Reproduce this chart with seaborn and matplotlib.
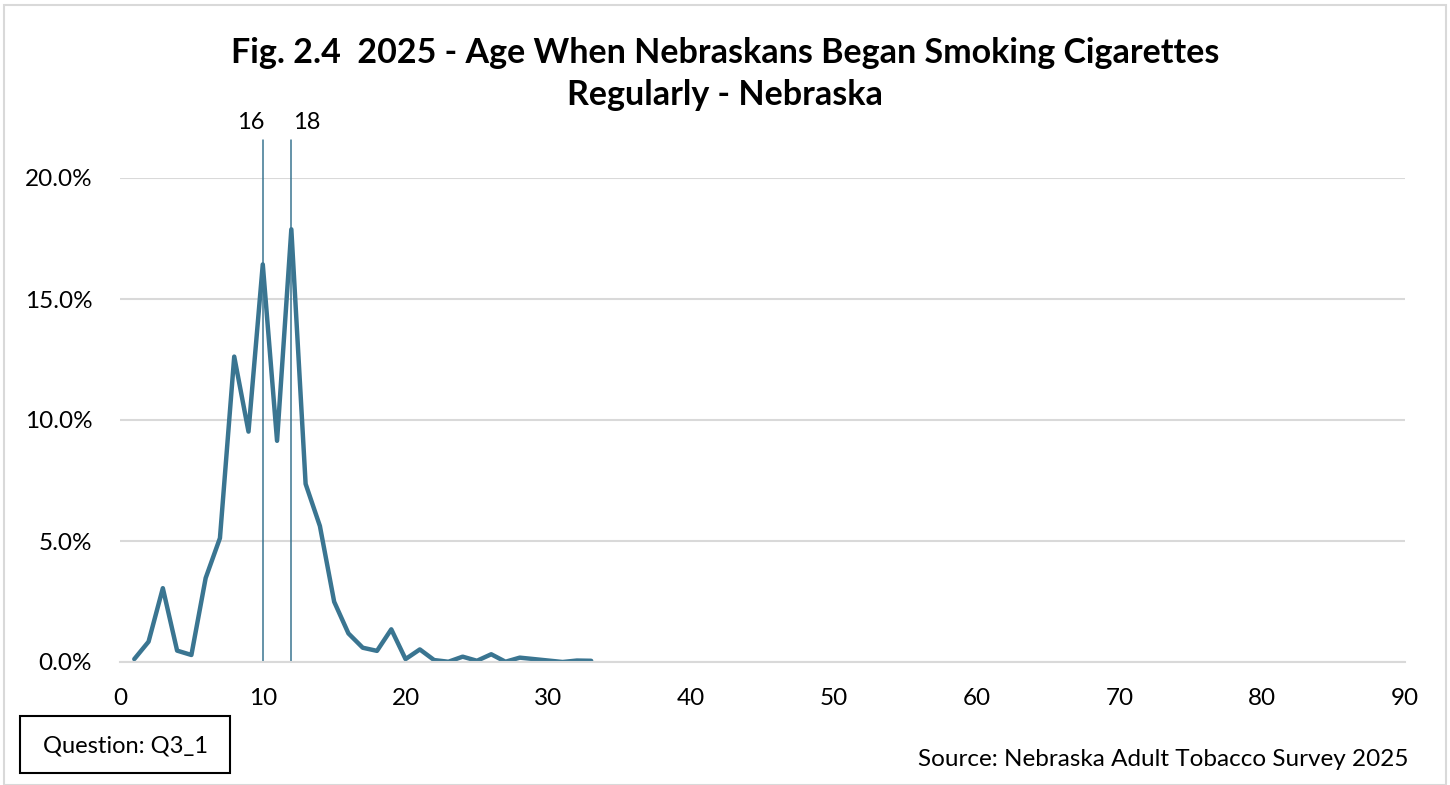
import matplotlib
matplotlib.use("Agg")
import matplotlib.pyplot as plt
import seaborn as sns
import pandas as pd
from matplotlib.patches import Rectangle
from matplotlib.ticker import PercentFormatter

positions = list(range(1, 34))
percent = [0.12, 0.84, 3.05, 0.47, 0.29, 3.47, 5.12, 12.62, 9.52, 16.43,
           9.14, 17.88, 7.36, 5.62, 2.49, 1.18, 0.59, 0.46, 1.35, 0.12,
           0.52, 0.08, 0.01, 0.22, 0.05, 0.32, 0.01, 0.18, 0.12, 0.06,
           0.0, 0.06, 0.05]
marker_positions = [10, 12]
marker_labels = ["16", "18"]

title = "Fig. 2.4  2025 - Age When Nebraskans Began Smoking Cigarettes\nRegularly - Nebraska"
question = "Question: Q3_1"
source = "Source: Nebraska Adult Tobacco Survey 2025"

sns.set_theme(style="white")
plt.rcParams['font.family'] = ['Lato', 'DejaVu Sans']
plt.rcParams['text.color'] = 'black'

df = pd.DataFrame({"pos": positions, "pct": [p / 100 for p in percent]})

fig = plt.figure(figsize=(14.5, 7.85), dpi=100)
ax = fig.add_axes([120/1450, 1 - 662/785, (1405-120)/1450, (662-178)/785])

line_color = "#3A7591"
sns.lineplot(data=df, x="pos", y="pct", ax=ax, color=line_color, linewidth=3.2)

ax.set_xlim(0, 90)
ax.set_ylim(0, 0.20)
ax.set_xticks(range(0, 91, 10))
ax.set_yticks([0, 0.05, 0.10, 0.15, 0.20])
ax.yaxis.set_major_formatter(PercentFormatter(1.0, decimals=1))
ax.grid(axis="y", color="#D9D9D9", linewidth=1.5)
ax.set_axisbelow(True)
for s in ["top", "right", "left"]:
    ax.spines[s].set_visible(False)
ax.spines["bottom"].set_color("#D9D9D9")
ax.spines["bottom"].set_linewidth(1.5)
ax.set_xlabel("")
ax.set_ylabel("")
ax.tick_params(axis="both", labelsize=17.5, colors="black", length=0)
ax.tick_params(axis="x", pad=19)
ax.tick_params(axis="y", pad=20)

for p, lab, off in zip(marker_positions, marker_labels, [-9, 11]):
    ax.plot([p, p], [0, 0.2157], color=line_color, linewidth=1.1, clip_on=False)
    ax.annotate(lab, xy=(p, 0.2157), xytext=(off, 5), textcoords="offset points",
                ha="center", va="bottom", fontsize=17, color="black",
                annotation_clip=False)

fig.text(0.5, 1 - 74/785, title, ha="center", va="center", fontsize=24.5,
         fontweight="bold", linespacing=1.35, color="black")

fig.patches.append(Rectangle((20/1450, 1 - 773/785), 210/1450, 57/785,
                             transform=fig.transFigure, fill=False,
                             edgecolor="black", linewidth=1.5))
fig.text(125/1450, 1 - 746/785, question, ha="center", va="center", fontsize=17,
         color="black")
fig.text(1408/1450, 1 - 760/785, source, ha="right", va="center", fontsize=17.5,
         color="black")

fig.patches.append(Rectangle((4/1450, 0), 1442/1450, 1 - 5/785,
                             transform=fig.transFigure, fill=False,
                             edgecolor="#D9D9D9", linewidth=1.5))

fig.savefig("out.png", dpi=100)
